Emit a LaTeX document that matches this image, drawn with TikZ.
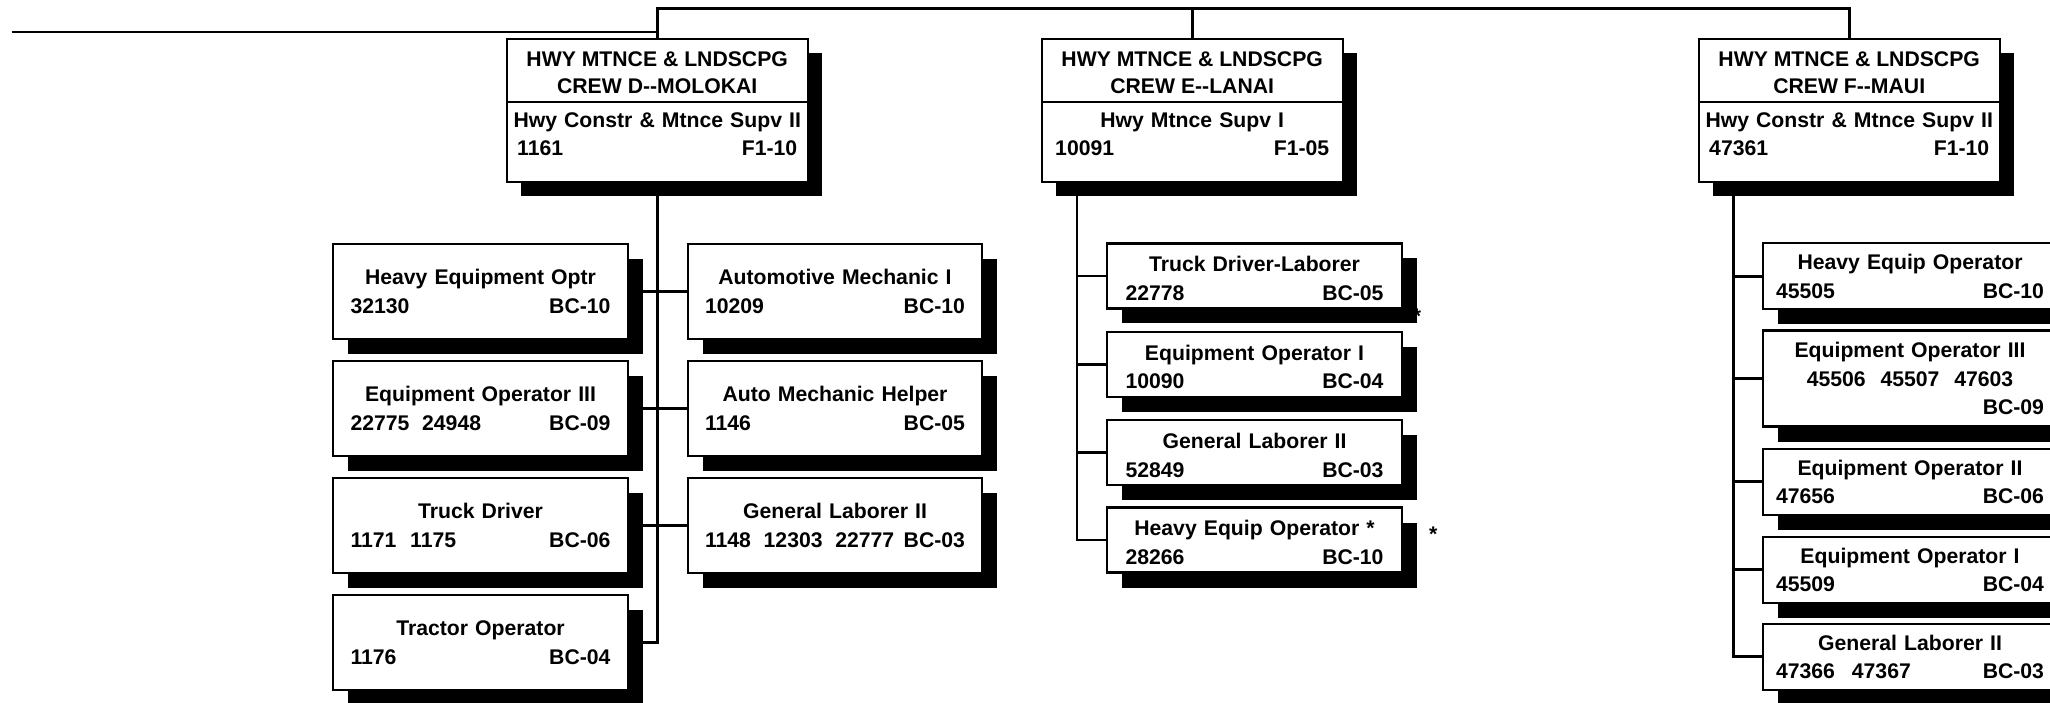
\documentclass[tikz,border=0pt]{standalone}
\usepackage{fontspec}
\setmainfont{Liberation Sans}
\usetikzlibrary{shadows,backgrounds}
\begin{document}
\begin{tikzpicture}[x=0.5pt,y=-0.5pt,
  font=\fontsize{10.6}{14.25}\selectfont\bfseries,
  boxline/.style={draw=black,line width=1.1pt},
  conn/.style={draw=black,line width=1.4pt},
  crew/.style={boxline,fill=white,inner sep=0pt,outer sep=0pt,
    minimum width=150.5pt,minimum height=71.2pt,
    drop shadow={shadow xshift=7pt,shadow yshift=-7pt,fill=black,opacity=1}},
  job/.style={boxline,fill=white,inner sep=0pt,outer sep=0pt,align=center,
    drop shadow={shadow xshift=7.5pt,shadow yshift=-7.5pt,fill=black,opacity=1}},
  hdr/.style={inner sep=0pt,align=center,font=\fontsize{10.6}{13.5}\selectfont\bfseries},
  sub/.style={inner sep=0pt,align=center},
  djob/.style={job,text width=130pt,minimum width=147.5pt,minimum height=47.5pt},
  ejob/.style={job,text width=129pt,minimum width=147.5pt,minimum height=32.5pt},
  fjob/.style={job,text width=134pt,minimum width=146.7pt,minimum height=33pt}]
\useasboundingbox (0,0) rectangle (2050,702);

% crew boxes
\node[crew] (D) at (657.2,110.5) {};
\node[crew] (E) at (1192.2,110.5) {};
\node[crew] (F) at (1849.2,110.5) {};
\coordinate (div) at (0,101.7);
\draw[boxline] (D.west |- div) -- (D.east |- div);
\draw[boxline] (E.west |- div) -- (E.east |- div);
\draw[boxline] (F.west |- div) -- (F.east |- div);

\node[hdr] (Dh) at (657.2,72.5) {HWY MTNCE \& LNDSCPG\\CREW D-{}-MOLOKAI};
\node[sub,text width=140pt] (Ds) at (657.2,134.2) {\hbox to\hsize{\hss Hwy Constr \& Mtnce Supv II\hss}\\\hbox to\hsize{1161\hfill F1-10}};
\node[hdr] (Eh) at (1192.2,72.5) {HWY MTNCE \& LNDSCPG\\CREW E-{}-LANAI};
\node[sub,text width=137pt] (Es) at (1192.2,134.2) {Hwy Mtnce Supv I\\\hbox to\hsize{10091\hfill F1-05}};
\node[hdr] (Fh) at (1849.2,72.5) {HWY MTNCE \& LNDSCPG\\CREW F-{}-MAUI};
\node[sub,text width=140pt] (Fs) at (1849.2,134.2) {\hbox to\hsize{\hss Hwy Constr \& Mtnce Supv II\hss}\\\hbox to\hsize{47361\hfill F1-10}};

% crew D jobs
\node[djob] (d1) at (480.5,291.5) {Heavy Equipment Optr\\\hbox to\hsize{32130\hfill BC-10}};
\node[djob] (d2) at (480.5,408.5) {Equipment Operator III\\\hbox to\hsize{22775\hspace{0.6em}24948\hfill BC-09}};
\node[djob] (d3) at (480.5,525.5) {Truck Driver\\\hbox to\hsize{1171\hspace{0.65em}1175\hfill BC-06}};
\node[djob] (d4) at (480.5,642.8) {Tractor Operator\\\hbox to\hsize{1176\hfill BC-04}};
\node[djob,minimum width=147pt] (r1) at (835,291.5) {Automotive Mechanic I\\\hbox to\hsize{10209\hfill BC-10}};
\node[djob,minimum width=147pt] (r2) at (835,408.5) {Auto Mechanic Helper\\\hbox to\hsize{1146\hfill BC-05}};
\node[djob,minimum width=147pt] (r3) at (835,525.5) {General Laborer II\\\hbox to\hsize{1148\hspace{0.6em}12303\hspace{0.6em}22777\hfill BC-03}};

% crew E jobs
\begin{scope}[on background layer]
  \node (astP) at (1417,316) {*};
\end{scope}
\node[ejob] (e1) at (1254.5,275.9) {\rule{0pt}{10.2pt}Truck Driver-Laborer\\\hbox to\hsize{22778\hfill BC-05}};
\node[ejob] (e2) at (1254.5,364.5) {\rule{0pt}{10.2pt}Equipment Operator I\\\hbox to\hsize{10090\hfill BC-04}};
\node[ejob] (e3) at (1254.5,452.8) {\rule{0pt}{10.2pt}General Laborer II\\\hbox to\hsize{52849\hfill BC-03}};
\node[ejob] (e4) at (1254.5,540) {\rule{0pt}{10.2pt}Heavy Equip Operator *\\\hbox to\hsize{28266\hfill BC-10}};
\node (astE) at (1433.3,534.5) {*};

% crew F jobs
\node[fjob] (f1) at (1910,276.3) {Heavy Equip Operator\\\hbox to\hsize{45505\hfill BC-10}};
\node[fjob,minimum height=48pt] (f2) at (1910,378.5) {Equipment Operator III\\45506\hspace{0.7em}45507\hspace{0.7em}47603\\\hbox to\hsize{\hfill BC-09}};
\node[fjob] (f3) at (1910,481.8) {Equipment Operator II\\\hbox to\hsize{47656\hfill BC-06}};
\node[fjob] (f4) at (1910,569.8) {Equipment Operator I\\\hbox to\hsize{45509\hfill BC-04}};
\node[fjob] (f5) at (1910,656.8) {General Laborer II\\\hbox to\hsize{47366\hspace{0.8em}47367\hfill BC-03}};

% connectors
\begin{scope}[on background layer]
  \coordinate (topbus) at (0,8.5);
  \coordinate (lstart) at (11.7,32);
  \draw[conn] (lstart) -- (lstart -| D.north);
  \draw[conn] (D.north) -- (D.north |- topbus) -| (F.north);
  \draw[conn] (E.north) -- (E.north |- topbus);
  % D tree
  \draw[conn] (D.south) -- (D.south |- d4.east) -- (d4.east);
  \draw[conn] (d1.east) -- (r1.west);
  \draw[conn] (d2.east) -- (r2.west);
  \draw[conn] (d3.east) -- (r3.west);
  % E tree
  \coordinate (Ev) at (1077,181.7);
  \draw[conn] (Ev) |- (e4.west);
  \foreach \n in {e1,e2,e3} \draw[conn] (\n.west) -- (\n.west -| Ev);
  % F tree
  \coordinate (Fv) at (1733.3,181.7);
  \draw[conn] (Fv) |- (f5.west);
  \foreach \n in {f1,f2,f3,f4} \draw[conn] (\n.west) -- (\n.west -| Fv);
\end{scope}
\end{tikzpicture}
\end{document}
